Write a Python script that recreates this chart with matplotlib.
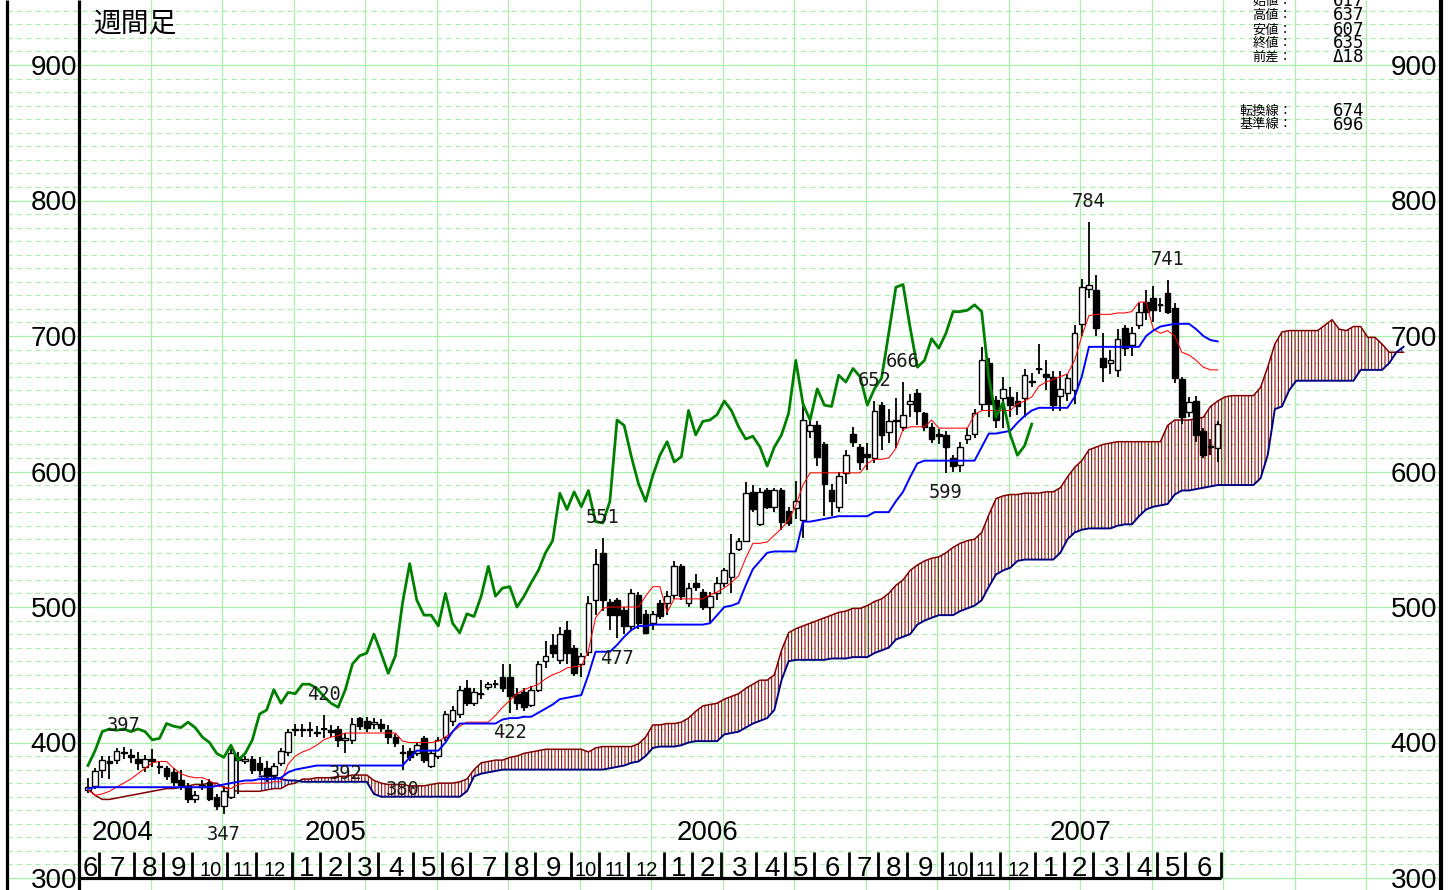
"""
Weekly candlestick chart with Ichimoku lines (週間足), June 2004 - June 2007.
Values read off the reference picture.
"""

import numpy as np
import pandas as pd
import matplotlib
matplotlib.use("Agg")
import matplotlib.pyplot as plt
from matplotlib import font_manager
from matplotlib.transforms import blended_transform_factory

# --------------------------------------------------------------------------- #
# Data                                                                        #
# --------------------------------------------------------------------------- #
week_end = pd.date_range("2004-06-18", periods=159, freq="W-FRI")

opens = [
    365, 368, 380, 386, 387, 393, 391, 388, 382, 388,
    383, 381, 378, 372, 368, 358, 367, 371, 360, 353,
    360, 389, 386, 388, 385, 381, 376, 385, 393, 409,
    410, 409, 407, 410, 409, 410, 402, 402, 418, 416,
    414, 414, 409, 404, 393, 394, 392, 403, 383, 390,
    404, 416, 421, 440, 429, 436, 441, 443, 448, 448,
    436, 437, 428, 439, 460, 472, 461, 483, 470, 458,
    467, 505, 540, 504, 505, 498, 486, 509, 495, 488,
    503, 503, 509, 530, 503, 518, 511, 500, 510, 518,
    522, 543, 549, 585, 561, 586, 574, 586, 571, 573,
    564, 630, 634, 620, 586, 574, 599, 628, 618, 613,
    610, 649, 629, 637, 633, 650, 658, 643, 633, 628,
    627, 610, 605, 624, 628, 650, 680, 653, 654, 655,
    652, 654, 667, 676, 672, 670, 656, 658, 660, 709,
    735, 734, 684, 680, 675, 706, 693, 708, 725, 728,
    723, 732, 721, 668, 644, 652, 630, 618, 617,
]
highs = [
    374, 381, 390, 390, 396, 397, 395, 393, 391, 395,
    386, 383, 381, 380, 370, 364, 372, 373, 362, 368,
    395, 393, 390, 390, 389, 386, 385, 396, 410, 414,
    414, 415, 412, 420, 413, 412, 407, 418, 419, 419,
    418, 417, 413, 406, 398, 396, 400, 405, 394, 404,
    423, 427, 442, 446, 440, 446, 445, 446, 458, 458,
    440, 440, 442, 460, 475, 480, 485, 490, 472, 466,
    508, 543, 551, 506, 507, 500, 513, 511, 498, 497,
    505, 512, 534, 532, 518, 524, 513, 511, 522, 529,
    554, 551, 592, 590, 588, 588, 588, 588, 574, 593,
    648, 640, 637, 622, 591, 600, 616, 633, 620, 621,
    652, 651, 646, 654, 666, 657, 661, 644, 636, 631,
    630, 612, 622, 632, 646, 692, 684, 656, 670, 662,
    659, 676, 673, 694, 682, 674, 674, 672, 708, 742,
    784, 745, 702, 690, 705, 708, 707, 724, 734, 737,
    728, 741, 724, 670, 655, 656, 632, 624, 637,
]
lows = [
    363, 366, 374, 373, 384, 388, 385, 380, 378, 382,
    377, 372, 368, 365, 355, 355, 365, 357, 350, 347,
    358, 362, 384, 377, 376, 371, 372, 383, 390, 405,
    404, 404, 404, 403, 404, 397, 392, 399, 409, 408,
    410, 408, 399, 397, 380, 386, 390, 385, 381, 388,
    401, 412, 418, 427, 427, 432, 439, 440, 437, 422,
    424, 423, 426, 437, 455, 462, 458, 458, 449, 448,
    464, 494, 497, 483, 477, 480, 482, 484, 480, 483,
    491, 494, 506, 505, 500, 512, 498, 489, 505, 515,
    510, 541, 548, 570, 560, 572, 570, 557, 560, 565,
    551, 625, 604, 567, 567, 570, 591, 618, 601, 601,
    606, 616, 621, 617, 630, 640, 634, 630, 621, 620,
    599, 600, 600, 620, 625, 645, 640, 632, 632, 640,
    642, 640, 662, 672, 660, 645, 645, 652, 650, 700,
    728, 700, 666, 672, 670, 685, 685, 705, 712, 710,
    718, 716, 665, 635, 640, 622, 610, 612, 607,
]
closes = [
    367, 379, 387, 385, 394, 392, 389, 385, 388, 386,
    382, 375, 371, 369, 358, 361, 369, 358, 353, 364,
    392, 387, 388, 380, 380, 376, 383, 394, 408, 410,
    409, 410, 408, 410, 408, 402, 403, 414, 412, 411,
    415, 411, 404, 400, 392, 389, 398, 387, 392, 402,
    421, 424, 439, 429, 437, 436, 443, 443, 440, 434,
    429, 426, 439, 458, 464, 466, 480, 466, 451, 464,
    503, 532, 505, 494, 494, 486, 510, 488, 481, 495,
    493, 508, 530, 508, 514, 515, 500, 508, 518, 527,
    540, 549, 584, 572, 585, 574, 586, 563, 562, 578,
    638, 634, 611, 591, 578, 597, 612, 622, 607, 611,
    645, 627, 637, 638, 642, 652, 645, 633, 624, 626,
    618, 604, 618, 627, 643, 682, 650, 638, 661, 649,
    648, 671, 666, 676, 670, 649, 661, 669, 702, 736,
    738, 706, 677, 682, 698, 691, 702, 718, 718, 719,
    723, 718, 669, 640, 651, 627, 612, 619, 635,
]

# 転換線 (red) and 基準線 (blue), one value per week
tenkan = [
    365, 361, 362, 364, 367, 370, 373, 377, 381, 385,
    386, 386, 381, 377, 375, 374, 374, 372, 368, 367,
    366, 369, 370, 370, 370, 370, 371, 371, 384, 390,
    393, 395, 398, 402, 404, 405, 407, 407, 407, 407,
    407, 407, 407, 407, 401, 400, 400, 400, 400, 401,
    404, 408, 412, 415, 415, 415, 415, 420, 426, 431,
    436, 439, 441, 443, 447, 450, 452, 455, 456, 456,
    468, 492, 499, 500, 500, 500, 500, 500, 508, 515,
    515, 496, 506, 506, 506, 506, 506, 509, 511, 514,
    518, 523, 536, 547, 547, 548, 553, 558, 564, 575,
    590, 599, 599, 599, 599, 599, 599, 599, 599, 606,
    609, 609, 610, 617, 631, 633, 633, 633, 638, 632,
    632, 632, 632, 632, 642, 645, 645, 645, 645, 645,
    650, 652, 655, 663, 666, 668, 670, 672, 682, 700,
    715, 716, 716, 716, 717, 717, 718, 725, 725, 705,
    702, 704, 700, 688, 686, 682, 677, 675, 675,
]
kijun = [
    366, 367, 367, 367, 367, 367, 367, 367, 367, 367,
    367, 367, 367, 367, 367, 367, 367, 367, 368, 369,
    370, 371, 372, 372, 373, 373, 373, 374, 378, 380,
    381, 382, 383, 383, 383, 383, 383, 383, 383, 383,
    383, 383, 383, 383, 383, 389, 394, 394, 394, 394,
    400, 408, 414, 414, 414, 414, 414, 414, 417, 418,
    418, 419, 419, 422, 425, 428, 432, 433, 434, 435,
    450, 467, 467, 467, 472, 478, 483, 486, 486, 487,
    487, 487, 487, 487, 487, 487, 487, 488, 494, 500,
    501, 503, 516, 528, 534, 540, 541, 541, 541, 541,
    563, 563, 564, 565, 566, 567, 567, 567, 567, 567,
    570, 570, 570, 578, 585, 596, 606, 608, 608, 608,
    608, 608, 608, 608, 608, 618, 628, 628, 629, 630,
    636, 641, 645, 647, 647, 647, 647, 647, 655, 670,
    692, 692, 692, 692, 692, 692, 692, 692, 700, 704,
    707, 708, 709, 709, 709, 705, 700, 697, 696,
]

# 先行スパン1 (dark red) runs 26 weeks past the last bar
span_a = [
    366, 361, 358, 358, 359, 360, 361, 362, 363, 364,
    365, 366, 366, 367, 368, 369, 369, 370, 370, 367,
    365, 364, 364, 364, 364, 365, 366, 366, 369, 370,
    373, 373, 374, 374, 374, 375, 375, 376, 376, 376,
    372, 370, 369, 369, 369, 368, 368, 368, 369, 370,
    370, 370, 371, 373, 380, 385, 386, 387, 387, 389,
    390, 392, 393, 394, 395, 395, 395, 395, 395, 395,
    393, 396, 397, 397, 397, 397, 397, 399, 404, 413,
    413, 414, 414, 415, 418, 423, 427, 428, 429, 432,
    434, 436, 440, 443, 446, 446, 450, 468, 481, 484,
    486, 488, 490, 492, 494, 496, 497, 499, 499, 501,
    504, 506, 510, 516, 520, 527, 531, 534, 536, 537,
    540, 544, 547, 549, 550, 555, 568, 580, 582, 583,
    583, 584, 584, 584, 585, 585, 588, 596, 603, 608,
    616, 618, 620, 621, 622, 622, 622, 622, 622, 622,
    622, 634, 638, 638, 638, 639, 640, 648, 652, 655,
    656, 656, 656, 656, 662, 677, 694, 703, 704, 704,
    704, 704, 704, 708, 712, 705, 704, 707, 707, 699,
    699, 694, 688, 688, 688,
]
# 先行スパン2 (navy) only appears from week 24
SPAN_B_START = 24
span_b = [
    375, 375, 375, 373, 372, 372,
    371, 371, 371, 371, 371, 371, 371, 371, 371, 371,
    362, 360, 360, 360, 360, 360, 360, 360, 360, 360,
    360, 360, 360, 364, 375, 377, 378, 379, 380, 380,
    380, 380, 380, 380, 380, 380, 380, 380, 380, 380,
    380, 380, 380, 381, 382, 383, 385, 386, 390, 396,
    397, 397, 397, 398, 400, 401, 401, 401, 401, 406,
    407, 408, 411, 414, 416, 418, 424, 446, 460, 461,
    461, 461, 461, 461, 462, 462, 462, 463, 463, 463,
    466, 468, 470, 476, 478, 480, 487, 490, 492, 494,
    494, 494, 497, 499, 501, 505, 515, 524, 527, 529,
    534, 535, 535, 535, 535, 535, 540, 550, 555, 557,
    558, 558, 558, 558, 560, 561, 561, 567, 572, 574,
    575, 576, 583, 586, 586, 587, 588, 589, 590, 590,
    590, 590, 590, 590, 595, 612, 646, 648, 660, 667,
    667, 667, 667, 667, 667, 667, 667, 667, 675, 675,
    675, 675, 680, 688, 692,
]

# weeks whose high / low carries a number on the chart
peak_idx = [5, 33, 72, 110, 114, 140, 151]
trough_idx = [19, 36, 44, 59, 74, 120]

price_ticks = [300, 400, 500, 600, 700, 800, 900]
years = ["2004", "2005", "2006", "2007"]
year_pos = [4.8, 34.7, 86.7, 138.8]

info_labels = ["始値：", "高値：", "安値：", "終値：", "前差："]
info_values = ["617", "637", "607", "635", "Δ18"]
line_labels = ["転換線：", "基準線："]
line_values = ["674", "696"]

# --------------------------------------------------------------------------- #
# Layout helpers (pixel grid of the original image)                           #
# --------------------------------------------------------------------------- #
W, H = 1450, 890
PXW = 7.15     # pixels per week
PXV = 1.355    # pixels per yen


def wx(px):
    """pixel column -> week coordinate"""
    return -1.25 + (px - 79) / PXW


def vy(py):
    """pixel row -> price"""
    return 300 + (878 - py) / PXV


names = {f.name for f in font_manager.fontManager.ttflist}
NARROW = "Liberation Sans" if "Liberation Sans" in names else "DejaVu Sans"
MONO = ["DejaVu Sans Mono", "DejaVu Sans"]
JP = ["Noto Sans CJK JP", "DejaVu Sans"]

GRID = "#a8f0a8"

fig = plt.figure(figsize=(W / 100, H / 100), dpi=100)
ax = fig.add_axes([0, 0, 1, 1])
ax.set_axis_off()
ax.set_xlim(wx(0), wx(W))
ax.set_ylim(vy(H), vy(0))

# grid
minor = [v for v in range(300, 950, 10) if v % 100]
ax.hlines(minor, wx(7), wx(1439), colors=GRID, lw=0.8,
          linestyles=[(0, (4.8, 3.6))], zorder=0)
ax.hlines(price_ticks, wx(7), wx(1439), colors=GRID, lw=0.9, zorder=0)
ax.vlines(np.arange(8.75, wx(1436), 10), vy(H), vy(0), colors=GRID, lw=0.9, zorder=0)

# cloud
xs = np.arange(len(span_a))
a = np.asarray(span_a, dtype=float)
b = np.r_[np.full(SPAN_B_START, np.nan), np.asarray(span_b, dtype=float)]
plt.rcParams["hatch.linewidth"] = 0.75
ax.fill_between(xs, a, b, where=a >= b, interpolate=True, facecolor="none",
                edgecolor="#8b0000", hatch="|||||", linewidth=0, zorder=1)
ax.fill_between(xs, a, b, where=b > a, interpolate=True, facecolor="none",
                edgecolor="#1010a0", hatch="|||||", linewidth=0, zorder=1)
ax.plot(xs, a, color="#800000", lw=1.1, zorder=2)
ax.plot(xs, b, color="#000080", lw=1.4, zorder=2)

# candles
idx = np.arange(len(closes))
o, h, l, c = (np.asarray(v, dtype=float) for v in (opens, highs, lows, closes))
ax.vlines(idx, l, h, colors="black", lw=1.3, zorder=3)
ax.bar(idx, np.abs(c - o), bottom=np.minimum(o, c), width=0.8,
       color=np.where(c > o, "white", "black"), edgecolor="black",
       linewidth=1.0, zorder=4)
doji = c == o
ax.hlines(c[doji], idx[doji] - 0.4, idx[doji] + 0.4, colors="black", lw=1.4, zorder=4)

# ichimoku lines
ax.plot(idx, tenkan, color="#ff0000", lw=0.75, zorder=5)
ax.plot(idx, kijun, color="#0000ff", lw=1.4, zorder=5)
ax.plot(idx[26:] - 26, c[26:], color="#008000", lw=2.0, zorder=6)

# high / low numbers
for i in peak_idx:
    ax.annotate(f"{highs[i]}", (i, highs[i]), xytext=(0, 15), textcoords="offset points",
                ha="center", va="center", fontsize=13.5, family=MONO, color="#1a1a1a", zorder=7)
for i in trough_idx:
    ax.annotate(f"{lows[i]}", (i, lows[i]), xytext=(0, -14.5), textcoords="offset points",
                ha="center", va="center", fontsize=13.5, family=MONO, color="#1a1a1a", zorder=7)

# frame
ax.hlines(300, wx(79), len(closes) - 0.5, colors="black", lw=2.3, zorder=8)
for px, lw in ((6.5, 2.3), (79, 2.3), (1441, 3.0)):
    ax.vlines(wx(px), vy(H), vy(0), colors="black", lw=lw, zorder=8)

# month separators and numbers
starts = [k for k in range(1, len(week_end)) if week_end[k].month != week_end[k - 1].month]
bars = [k - 0.5 for k in starts] + [len(week_end) - 0.5]
ax.vlines(bars, 300, vy(852), colors="black", lw=2.0, zorder=8)
months = [week_end[0].month] + [week_end[k].month for k in starts]
edges = [wx(79)] + bars
for left, right, m in zip(edges[:-1], edges[1:], months):
    ax.text((left + right) / 2 + 0.15, vy(876), str(m), ha="center", va="baseline",
            fontsize=20 if m < 10 else 14.5, family=NARROW, color="black", zorder=9)

for pos, yr in zip(year_pos, years):
    ax.text(pos, vy(840), yr, ha="center", va="baseline", fontsize=20,
            family=NARROW, color="black", zorder=9)

# price labels on both sides
trans = blended_transform_factory(fig.transFigure, ax.transData)
for v in price_ticks:
    for px in (77, 1437):
        ax.text(px / W, v - 10 / PXV, str(v), transform=trans, ha="right",
                va="baseline", fontsize=20, family=NARROW, color="black", zorder=9)

# title and price box
fig.text(93 / W, 1 - 24 / H, "週間足", ha="left", va="center", fontsize=20,
         family=JP, color="black")
rows_y = [1, 15, 30, 43, 57.5]
for yy, lab, val in zip(rows_y, info_labels, info_values):
    fig.text(1292 / W, 1 - yy / H, lab, ha="right", va="center", fontsize=9.5,
             family=JP, color="black")
    fig.text(1364 / W, 1 - yy / H, val, ha="right", va="center", fontsize=12.5,
             family=MONO, color="black")
for yy, lab, val in zip([111, 124.5], line_labels, line_values):
    fig.text(1292 / W, 1 - yy / H, lab, ha="right", va="center", fontsize=9.5,
             family=JP, color="black")
    fig.text(1364 / W, 1 - yy / H, val, ha="right", va="center", fontsize=12.5,
             family=MONO, color="black")

fig.savefig("out.png", dpi=100)
